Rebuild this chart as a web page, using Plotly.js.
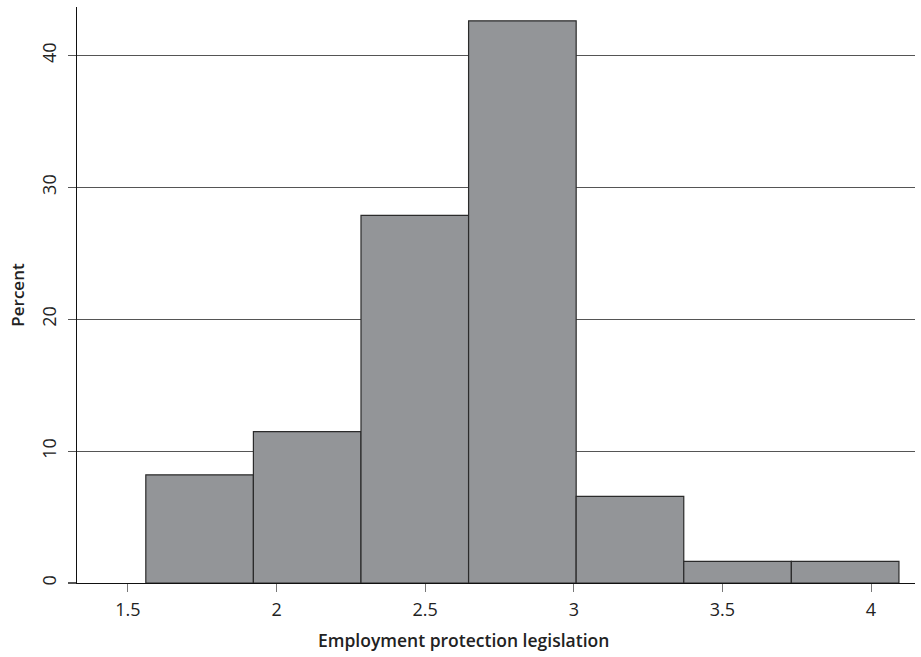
<!DOCTYPE html>
<html>
<head>
<meta charset="utf-8">
<script src="https://cdn.plot.ly/plotly-3.0.1.min.js"></script>
<style>html,body{margin:0;padding:0;background:#fff;}#chart{width:921px;height:657px;}</style>
</head>
<body>
<div id="chart"></div>
<script>
// Histogram bins (Employment protection legislation) and percent per bin
const binCenters = [1.741, 2.103, 2.465, 2.827, 3.189, 3.551, 3.913];
const binWidth = 0.362;
const percents = [8.20, 11.48, 27.87, 42.62, 6.56, 1.64, 1.64];
const xTicks = [1.5, 2, 2.5, 3, 3.5, 4];
const xTickText = ['1.5', '2', '2.5', '3', '3.5', '4'];
const yTicks = [0, 10, 20, 30, 40];
const yTickText = ['0', '10', '20', '30', '40'];

const FONT = "'Open Sans', 'Noto Sans', sans-serif";

const trace = {
  type: 'bar',
  x: binCenters,
  y: percents,
  width: binCenters.map(() => binWidth),
  marker: { color: '#939598', line: { color: '#2b2b2b', width: 1.2 } },
  hoverinfo: 'x+y'
};

const layout = {
  width: 921, height: 657,
  margin: { l: 77, r: 6, t: 7, b: 74 },
  paper_bgcolor: '#fff', plot_bgcolor: '#fff',
  showlegend: false,
  bargap: 0,
  xaxis: {
    range: [1.3285, 4.148],
    tickvals: xTicks, ticktext: xTickText,
    ticks: 'outside', ticklen: 8, tickwidth: 1, tickcolor: '#777',
    showline: true, linecolor: '#111', linewidth: 1.3,
    showgrid: false, zeroline: false,
    tickfont: { family: FONT, size: 18, color: '#222' },
    ticklabelstandoff: 2,
    title: { text: '' }
  },
  yaxis: {
    range: [0, 43.67],
    tickvals: yTicks, ticktext: yTickText,
    ticks: 'outside', ticklen: 8, tickwidth: 1.2, tickcolor: '#555',
    tickangle: -90,
    showline: true, linecolor: '#111', linewidth: 1.3,
    showgrid: true, gridcolor: '#555', gridwidth: 1.2,
    zeroline: false,
    tickfont: { family: FONT, size: 18, color: '#222' },
    ticklabelstandoff: 5,
    title: { text: 'Percent', standoff: 7, font: { family: FONT, size: 17, color: '#222', weight: 600 } }
  },
  annotations: [{
    xref: 'paper', yref: 'paper', x: 0.461, y: 0, yshift: -57,
    xanchor: 'center', yanchor: 'middle', showarrow: false,
    text: 'Employment protection legislation',
    font: { family: FONT, size: 17.5, color: '#222', weight: 600 }
  }]
};

Plotly.newPlot('chart', [trace], layout, { displayModeBar: false, staticPlot: true });
</script>
</body>
</html>
